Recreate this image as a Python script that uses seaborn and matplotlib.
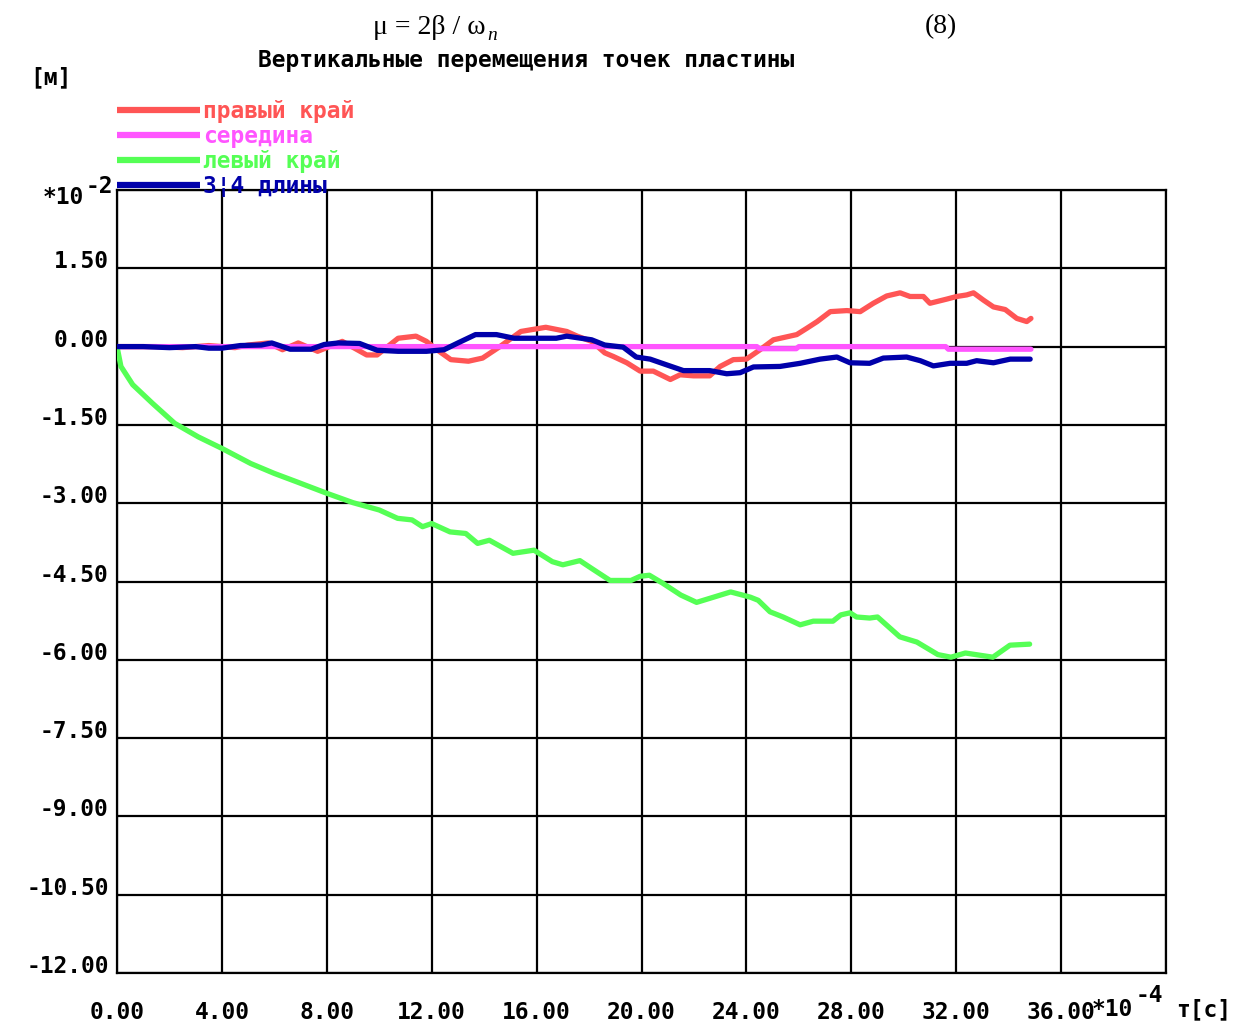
import matplotlib
matplotlib.use("Agg")
import matplotlib.pyplot as plt
import seaborn as sns
import pandas as pd
from matplotlib.lines import Line2D

# ---- data (time in 1e-4 s, displacement in 1e-2 m) ----
red_x = [0.0, 1.5, 2.5, 3.5, 4.5, 5.0, 5.77, 6.31, 6.91, 7.65, 8.59, 9.52, 9.92, 10.72, 11.4,
         11.8, 12.2, 12.73, 13.4, 13.94, 14.6, 15.4, 16.35, 17.15, 17.55, 18.1, 18.6, 18.93,
         19.44, 19.95, 20.45, 21.1, 21.47, 21.98, 22.6, 23.0, 23.5, 24.0, 24.52, 25.03, 25.92,
         26.3, 26.7, 27.2, 27.83, 28.34, 28.84, 29.35, 29.86, 30.24, 30.75, 31.0, 31.64, 32.02,
         32.4, 32.66, 33.04, 33.42, 33.87, 34.31, 34.69, 34.85]
red_y = [0.0, 0.0, -0.02, 0.02, -0.02, 0.03, 0.07, -0.06, 0.07, -0.09, 0.10, -0.16, -0.16, 0.16, 0.20,
         0.10, -0.06, -0.25, -0.28, -0.22, 0.00, 0.29, 0.37, 0.29, 0.20, 0.10, -0.12, -0.19,
         -0.31, -0.47, -0.47, -0.63, -0.54, -0.56, -0.56, -0.38, -0.25, -0.24, -0.06, 0.13, 0.23,
         0.35, 0.48, 0.67, 0.69, 0.67, 0.83, 0.97, 1.03, 0.96, 0.96, 0.83, 0.91, 0.96,
         0.99, 1.03, 0.89, 0.76, 0.71, 0.54, 0.48, 0.54]

mid_x = [0.0, 24.4, 24.5, 25.9, 26.0, 31.6, 31.7, 34.85]
mid_y = [0.0, 0.0, -0.04, -0.04, 0.0, 0.0, -0.05, -0.05]

green_x = [0.0, 0.15, 0.6, 1.36, 2.2, 3.1, 4.0, 5.1, 6.0, 6.85, 8.0, 9.0, 10.0, 10.7, 11.25,
           11.65, 12.0, 12.7, 13.3, 13.75, 14.2, 15.1, 15.9, 16.6, 17.0, 17.65, 18.1, 18.8,
           19.6, 19.95, 20.3, 20.8, 21.5, 22.1, 22.75, 23.4, 24.15, 24.45, 24.9, 25.4, 26.05,
           26.55, 27.3, 27.6, 27.95, 28.2, 28.7, 29.0, 29.85, 30.5, 31.3, 31.8, 32.35, 33.4,
           34.05, 34.8]
green_y = [0.0, -0.38, -0.73, -1.09, -1.47, -1.73, -1.95, -2.24, -2.43, -2.59, -2.81, -2.99, -3.13,
           -3.29, -3.32, -3.45, -3.39, -3.55, -3.58, -3.77, -3.71, -3.96, -3.90, -4.12, -4.18,
           -4.10, -4.25, -4.48, -4.48, -4.40, -4.38, -4.53, -4.76, -4.90, -4.80, -4.70, -4.80,
           -4.86, -5.08, -5.18, -5.33, -5.26, -5.26, -5.14, -5.10, -5.18, -5.20, -5.18, -5.56,
           -5.66, -5.90, -5.95, -5.87, -5.95, -5.72, -5.70]

blue_x = [0.0, 1.0, 2.0, 3.0, 3.5, 4.0, 4.7, 5.5, 5.9, 6.6, 7.4, 7.9, 8.45, 9.25, 9.92, 10.72,
          11.8, 12.47, 13.0, 13.67, 14.47, 15.14, 16.75, 17.15, 18.1, 18.6, 19.3, 19.8, 20.33,
          20.96, 21.6, 22.6, 23.25, 23.76, 24.27, 25.28, 26.05, 26.81, 27.45, 27.95, 28.7, 29.22,
          30.11, 30.63, 31.13, 31.77, 32.4, 32.78, 33.42, 34.06, 34.82]
blue_y = [0.0, 0.0, -0.02, 0.0, -0.03, -0.03, 0.02, 0.03, 0.07, -0.05, -0.05, 0.04, 0.07, 0.06,
          -0.07, -0.09, -0.09, -0.06, 0.07, 0.23, 0.23, 0.16, 0.16, 0.20, 0.13, 0.03, -0.01, -0.20,
          -0.24, -0.35, -0.46, -0.46, -0.52, -0.50, -0.39, -0.38, -0.32, -0.24, -0.20, -0.31, -0.32,
          -0.22, -0.20, -0.27, -0.37, -0.32, -0.32, -0.27, -0.31, -0.24, -0.24]

labels = ["правый край", "середина", "левый край", "3¦4 длины"]
colors = ["#ff5555", "#ff55ff", "#55ff55", "#0000aa"]

x_ticks = [0, 4, 8, 12, 16, 20, 24, 28, 32, 36, 40]
y_ticks = [-12.0, -10.5, -9.0, -7.5, -6.0, -4.5, -3.0, -1.5, 0.0, 1.5, 3.0]

title = "Вертикальные перемещения точек пластины"

# ---- figure ----
sns.set_theme(style="white")
MONO = ["DejaVu Sans Mono", "DejaVu Sans"]
plt.rcParams["font.family"] = MONO
plt.rcParams["font.weight"] = "bold"
plt.rcParams["text.color"] = "black"
FS = 16.5

W, H = 1244, 1023
fig = plt.figure(figsize=(W / 100, H / 100), dpi=100)
fig.patch.set_facecolor("white")
ax = fig.add_axes([117 / W, 1 - 973 / H, (1166 - 117) / W, (973 - 190) / H])
ax.set_facecolor("white")

series = [(red_x, red_y), (mid_x, mid_y), (green_x, green_y), (blue_x, blue_y)]
for (xs, ys), col, lab in zip(series, colors, labels):
    df = pd.DataFrame({"t": xs, "v": ys})
    sns.lineplot(data=df, x="t", y="v", color=col, linewidth=3.8, ax=ax,
                 sort=False, estimator=None, legend=False, zorder=3)

ax.set_xlim(0, 40)
ax.set_ylim(-12, 3)
ax.set_xticks(x_ticks)
ax.set_xticklabels([f"{v:.2f}" if v < 40 else "" for v in x_ticks])
ax.set_yticks(y_ticks)
ax.set_yticklabels([f"{v:.2f}" if v < 3 else "" for v in y_ticks], va="baseline")
ax.grid(True, color="black", linewidth=1.6)
ax.set_axisbelow(True)
for s in ax.spines.values():
    s.set_visible(True)
    s.set_color("black")
    s.set_linewidth(1.6)
ax.tick_params(axis="both", length=0, labelsize=FS, colors="black")
ax.tick_params(axis="x", pad=20)
ax.tick_params(axis="y", pad=6)
ax.set_xlabel("")
ax.set_ylabel("")

# legend
handles = [Line2D([], [], color=c, linewidth=4.5, solid_capstyle="butt") for c in colors]
fig.legend(handles, labels, loc="upper left",
           bbox_to_anchor=(117 / W, 1 - 100 / H), bbox_transform=fig.transFigure,
           frameon=False, handlelength=3.6, handletextpad=0.15, labelspacing=0.09,
           borderpad=0, borderaxespad=0, labelcolor="linecolor",
           prop=dict(family=MONO, weight="bold", size=FS))

# texts
kw = dict(fontsize=FS, fontweight="bold", color="black")
fig.text(526 / W, 1 - 60 / H, title, ha="center", va="center", **kw)
fig.text(30 / W, 1 - 78 / H, "[м]", ha="left", va="center", **kw)
fig.text(84 / W, 1 - 198 / H, "*10", ha="right", va="center", **kw)
fig.text(86 / W, 1 - 186 / H, "-2", ha="left", va="center", **kw)
fig.text(1092 / W, 1 - 1010 / H, "*10", ha="left", va="center", **kw)
fig.text(1136 / W, 1 - 996 / H, "-4", ha="left", va="center", **kw)
fig.text(1176 / W, 1 - 1010 / H, "т[с]", ha="left", va="center", **kw)

SERIF = ["Liberation Serif", "DejaVu Serif"]
fig.text(373 / W, 1 - 27 / H, "μ = 2β / ω", ha="left", va="center", fontsize=20,
         family=SERIF, fontweight="normal", color="black")
fig.text(487 / W, 1 - 36 / H, "n", ha="left", va="center", fontsize=14,
         family=SERIF, style="italic", fontweight="normal", color="black")
fig.text(941 / W, 1 - 27 / H, "(8)", ha="center", va="center", fontsize=20,
         family=SERIF, fontweight="normal", color="black")

fig.savefig("out.png", dpi=100, facecolor="white")
